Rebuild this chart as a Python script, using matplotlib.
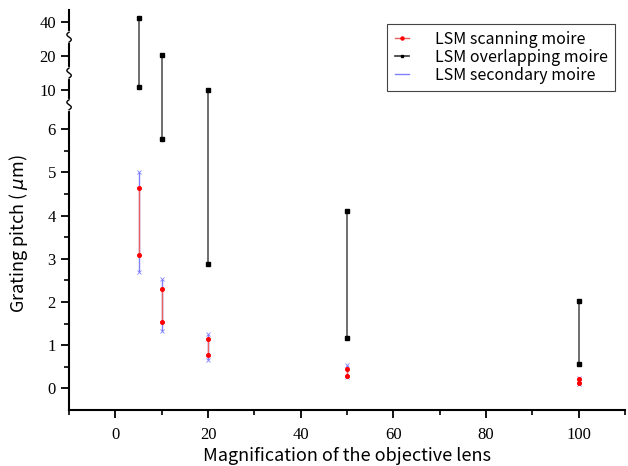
import numpy as np
import matplotlib
matplotlib.use("Agg")
import matplotlib.pyplot as plt
from matplotlib.lines import Line2D
from matplotlib.transforms import IdentityTransform

# magnification of objective lens
mag = [5, 10, 20, 50, 100]

# LSM scanning moire (red) range
scan_lo = [3.09, 1.54, 0.77, 0.30, 0.13]
scan_hi = [4.63, 2.31, 1.15, 0.46, 0.22]
# LSM overlapping moire (black) range
over_lo = [10.9, 5.78, 2.88, 1.16, 0.565]
over_hi = [42.0, 20.3, 10.1, 4.11, 2.03]
# LSM secondary moire (blue) range
sec_lo = [2.70, 1.33, 0.67, 0.27, 0.11]
sec_hi = [5.02, 2.53, 1.26, 0.55, 0.25]

yticks = [0, 1, 2, 3, 4, 5, 6, 10, 20, 40]
ybreaks = [8.5, 15, 31]

# broken y axis: linear up to 6, then compressed segments
seg_val = [-10, 0, 6, 10, 20, 40, 1000]
seg_pos = [-10, 0, 6, 6 + 39/43, 6 + 73/43, 6 + 107/43, 6 + 107/43 + 960 * (34/43) / 20]

def fwd(y):
    return np.interp(y, seg_val, seg_pos)

def inv(p):
    return np.interp(p, seg_pos, seg_val)

fig = plt.figure(figsize=(6.28, 4.66), dpi=100)
ax = fig.add_axes([0.110, 0.120, 0.885, 0.859])
ax.set_yscale('function', functions=(fwd, inv))

ax.vlines(mag, sec_lo, sec_hi, color='#8080ff', lw=1.0, zorder=2)
ax.plot(mag, sec_lo, ls='none', marker='x', ms=2.5, mew=0.6, color='#8080ff', zorder=2)
ax.plot(mag, sec_hi, ls='none', marker='x', ms=2.5, mew=0.6, color='#8080ff', zorder=2)

ax.vlines(mag, scan_lo, scan_hi, color='#e86060', lw=1.0, zorder=3)
ax.plot(mag, scan_lo, ls='none', marker='o', ms=2.6, color='red', zorder=4)
ax.plot(mag, scan_hi, ls='none', marker='o', ms=2.6, color='red', zorder=4)

ax.vlines(mag, over_lo, over_hi, color='#555555', lw=1.2, zorder=3)
ax.plot(mag, over_lo, ls='none', marker='s', ms=2.2, color='black', zorder=4)
ax.plot(mag, over_hi, ls='none', marker='s', ms=2.2, color='black', zorder=4)

ax.set_xlim(-10, 110)
ax.set_ylim(-0.5, 47)
ax.set_xticks([0, 20, 40, 60, 80, 100])
ax.set_xticks([-10, 10, 30, 50, 70, 90, 110], minor=True)
ax.set_yticks(yticks)
ax.set_yticklabels([str(t) for t in yticks])
ax.set_yticks([0.5, 1.5, 2.5, 3.5, 4.5, 5.5], minor=True)

for s in ['top', 'right']:
    ax.spines[s].set_visible(False)
for s in ['left', 'bottom']:
    ax.spines[s].set_linewidth(1.5)
ax.tick_params(which='major', direction='out', length=6, width=1.3,
               labelsize=12, labelfontfamily='Liberation Serif')
ax.tick_params(which='minor', direction='out', length=3.5, width=1.2)
ax.tick_params(axis='x', pad=6)

ax.set_xlabel('Magnification of the objective lens', fontsize=13,
              family='Noto Sans CJK JP', labelpad=3)
ax.set_ylabel('Grating pitch ( $\\mu$m)', fontsize=13,
              family=['Noto Sans CJK JP', 'DejaVu Sans'], labelpad=6)
ax.yaxis.set_label_coords(-0.07, 0.44)

handles = [
    Line2D([], [], color='#e86060', marker='o', ms=2.2, mfc='red', mec='red', lw=1),
    Line2D([], [], color='#333333', marker='s', ms=2, mfc='black', mec='black', lw=1.2),
    Line2D([], [], color='#8080ff', lw=1),
]
leg = ax.legend(handles, ['LSM scanning moire', 'LSM overlapping moire', 'LSM secondary moire'],
                loc='upper right', bbox_to_anchor=(0.996, 0.985), fancybox=False,
                edgecolor='#444444', framealpha=1, handlelength=0.9, handletextpad=1.6,
                borderpad=0.45, labelspacing=0.05,
                prop={'family': 'Noto Sans CJK JP', 'size': 11.5})
leg.get_frame().set_linewidth(0.8)

# break marks on the y axis
fig.canvas.draw()
x0 = ax.transAxes.transform((0, 0))[0]
for yb in ybreaks:
    yd = ax.transData.transform((0, yb))[1]
    ax.add_line(Line2D([x0, x0], [yd - 4, yd + 4], color='white', lw=3,
                       transform=IdentityTransform(), clip_on=False, zorder=5))
    t = np.linspace(0, 1, 30)
    ax.add_line(Line2D(x0 + 2.2 * np.sin(2 * np.pi * t), yd - 5 + 10 * t, color='black',
                       lw=1.0, transform=IdentityTransform(), clip_on=False, zorder=6))

fig.savefig('out.png', dpi=100)
